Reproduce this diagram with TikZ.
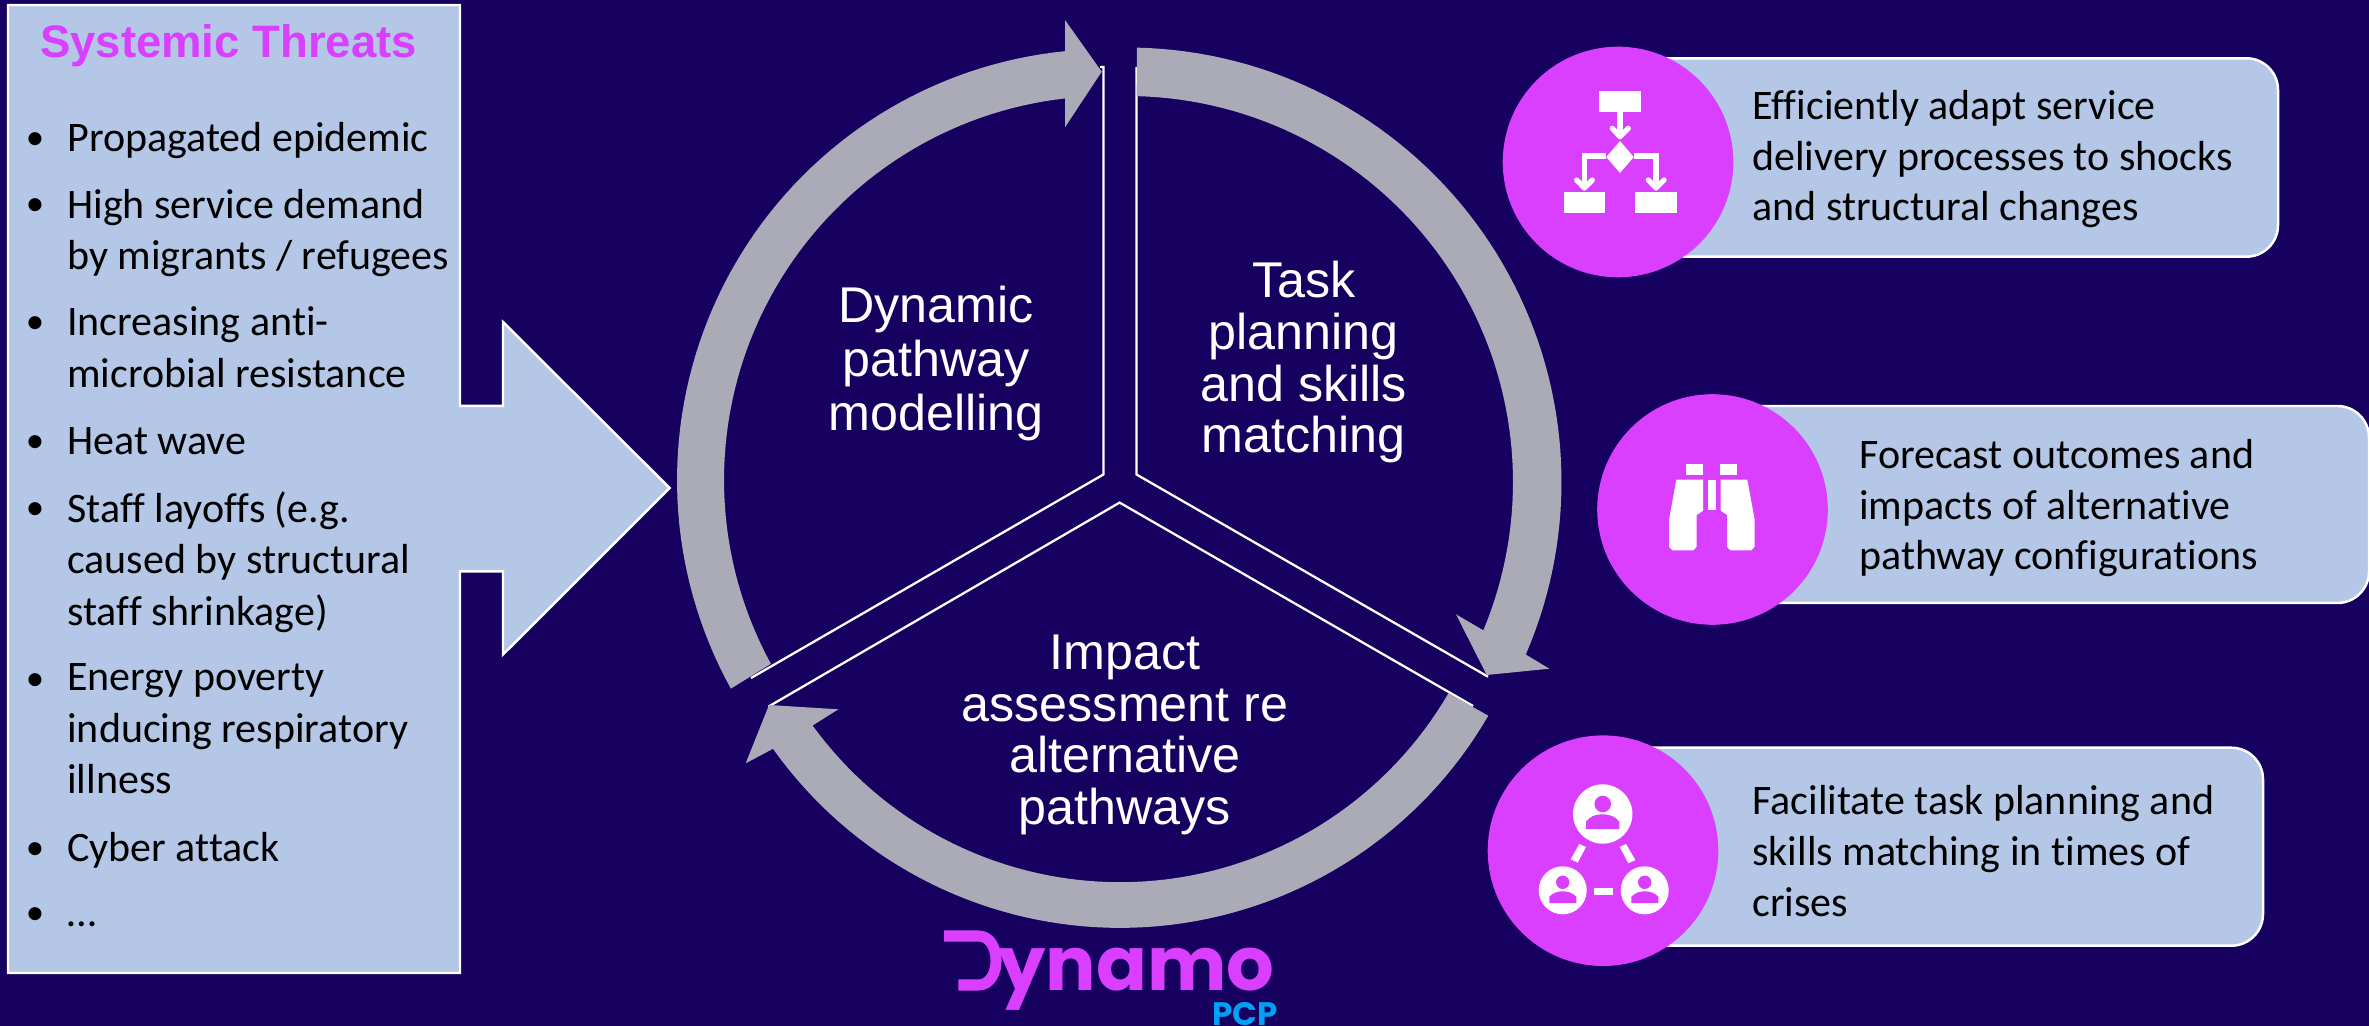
\documentclass[tikz,border=0pt]{standalone}
\usepackage{fontspec}
\setmainfont[Ligatures=NoCommon]{Carlito}
\newfontfamily\sanslab{Liberation Sans}
\newfontfamily\logofont{Poppins}
\definecolor{bgnavy}{HTML}{160060}
\definecolor{panelblue}{HTML}{B4C7E7}
\definecolor{ringgray}{HTML}{ABABB8}
\definecolor{vivid}{HTML}{DA3FFF}
\definecolor{pcpblue}{HTML}{00A0F5}
\tikzset{
  panel/.style={fill=panelblue,draw=white,line width=1.4pt,line join=miter},
  card/.style={fill=panelblue,draw=white,line width=1.4pt,rounded corners=18pt},
  disc/.style={fill=vivid},
  ring/.style={fill=ringgray},
  wedge/.style={draw=white,line width=1.3pt,line join=miter},
  iconfill/.style={fill=white},
  iconcut/.style={fill=vivid},
  iconline/.style={draw=white,line width=3pt,line cap=round,line join=round},
  body/.style={font=\fontsize{23.9}{29.3}\selectfont,text=black,align=left,inner sep=0pt,anchor=base west},
  cardbody/.style={body,font=\fontsize{23.9}{29}\selectfont},
  bul/.style={font=\fontsize{21}{29.3}\selectfont,text=black,inner sep=0pt,anchor=base},
  hub/.style={font=\sanslab\fontsize{28.6}{29.4}\selectfont,text=white,align=center,inner sep=0pt,anchor=base},
}
\begin{document}
\begin{tikzpicture}[x=0.02cm,y=-0.02cm]
\useasboundingbox (0,0) rectangle (2369,1026);
\begin{scope}
\clip (0,0) rectangle (2369,1026);
\fill[bgnavy] (0,0) rectangle (2369,1026);
% threats panel with arrow
\draw[panel] (8,5) -- (460,5) -- (460,405.8) -- (503,405.8) -- (503,322) -- (669.6,488) -- (503,654.5) -- (503,571.3) -- (460,571.3) -- (460,973) -- (8,973) -- cycle;
% cards
\draw[card] (1600,58.3) rectangle (2278,256.7);
\draw[card] (1700,406) rectangle (2369,603);
\draw[card] (1600,747.7) rectangle (2263,945.7);
% discs
\fill[disc] (1618,162) circle[radius=115.3];
\fill[disc] (1712.5,509.5) circle[radius=115.3];
\fill[disc] (1603,850.7) circle[radius=115.3];
% wedge outlines
\draw[wedge] (1100,67) -- (1103.4,67) -- (1103.4,474.5) -- (751,678);
\draw[wedge] (1136.5,67) -- (1136.5,474.5) -- (1488,676.7);
\draw[wedge] (768.3,706.7) -- (1119.6,502.6) -- (1473,706);
% ring arrows
\fill[ring] plot[domain=208.95:95.7,samples=70,variable=\t] ({1108+431*cos(\t)},{480-431*sin(\t)})
  -- (1065,20) -- (1101.7,71.7) -- (1065,127.3)
  -- plot[domain=96.4:208.6,samples=70,variable=\t] ({1108+384*cos(\t)},{480-384*sin(\t)}) -- cycle;
\fill[ring] plot[domain=88.7:-23.4,samples=70,variable=\t] ({1127+434.5*cos(\t)},{482-434.5*sin(\t)})
  -- (1549.3,668.7) -- (1486.7,675) -- (1456,614.3)
  -- plot[domain=-22.6:88.56,samples=70,variable=\t] ({1127+386*cos(\t)},{482-386*sin(\t)}) -- cycle;
\fill[ring] plot[domain=-30.1:-144.6,samples=70,variable=\t] ({1120+425.7*cos(\t)},{502.2-425.7*sin(\t)})
  -- (745.7,763.3) -- (769,705) -- (838.3,709.3)
  -- plot[domain=-144:-30.2,samples=70,variable=\t] ({1120+380*cos(\t)},{502.2-380*sin(\t)}) -- cycle;
% hub labels
\node[hub,font=\sanslab\fontsize{28.6}{31}\selectfont] (dyn) at (936,431) {Dynamic\\pathway\\modelling};
\node[hub] (task) at (1303.7,452.9) {Task\\planning\\and skills\\matching};
\node[hub] (imp) at (1125,824.5) {Impact\\assessment re\\alternative\\pathways};
% threats text
\node[font=\sanslab\bfseries\fontsize{25.9}{30}\selectfont,text=vivid,inner sep=0pt,anchor=base] (title) at (228.5,57.6) {Systemic Threats};
\foreach \n/\y in {a/151.8,b/218,c/335.7,d/454.8,e/521.6,f/692.4,g/861.3,h/926.7}
  \node[bul] (bul\n) at (35,\y-2) {•};
\node[body] (ia) at (67,151.8) {Propagated epidemic};
\node[body] (ib) at (67,269.6) {High service demand\\by migrants / refugees};
\node[body] (ic) at (67,387.4) {Increasing anti-\\microbial resistance};
\node[body] (id) at (67,454.8) {Heat wave};
\node[body] (ie) at (67,625) {Staff layoffs (e.g.\\caused by structural\\staff shrinkage)};
\node[body] (if) at (67,793.8) {Energy poverty\\inducing respiratory\\illness};
\node[body] (ig) at (67,861.3) {Cyber attack};
\node[body] (ih) at (67,926.7) {…};
% card text
\node[cardbody] (t1) at (1752,221) {Efficiently adapt service\\delivery processes to shocks\\and structural changes};
\node[cardbody] (t2) at (1859,570) {Forecast outcomes and\\impacts of alternative\\pathway configurations};
\node[cardbody] (t3) at (1752,916) {Facilitate task planning and\\skills matching in times of\\crises};
% flowchart icon
\fill[iconfill] (1599.3,91.3) rectangle (1641,112);
\fill[iconfill] (1563.7,192.3) rectangle (1605.3,213.3);
\fill[iconfill] (1635,192.3) rectangle (1676.7,213.3);
\fill[iconfill] (1620,141) -- (1633.7,157) -- (1620,173) -- (1606.3,157) -- cycle;
\draw[iconline,line cap=butt] (1620,112) -- (1620,135);
\draw[iconline] (1612.3,128.3) -- (1620,136.7) -- (1628.3,128.3);
\draw[iconline,line cap=butt,line join=miter] (1606.3,156) -- (1584.3,156) -- (1584.3,186);
\draw[iconline] (1576.7,180) -- (1584.3,188) -- (1592.3,180);
\draw[iconline,line cap=butt,line join=miter] (1633.7,156) -- (1656,156) -- (1656,186);
\draw[iconline] (1648.3,180) -- (1656,188) -- (1664,180);
% binoculars icon
\fill[iconfill] (1686.3,464.3) rectangle (1703,474.7);
\fill[iconfill] (1720,464.3) rectangle (1737,474.7);
\fill[iconfill] (1708,479.7) rectangle (1715.7,509.7);
\fill[iconfill] (1676.3,479.7) -- (1703,479.7) -- (1703,510.7) -- (1696.7,515) -- (1696.7,546.7) -- (1693.3,550.3) -- (1672.3,550.3) -- (1669,546.7) -- (1669,520) -- cycle;
\fill[iconfill] (1747.3,479.7) -- (1720.7,479.7) -- (1720.7,510.7) -- (1727,515) -- (1727,546.7) -- (1730.3,550.3) -- (1751.3,550.3) -- (1754.7,546.7) -- (1754.7,520) -- cycle;
% network icon
\fill[iconfill] (1602.7,814) circle[radius=29.7];
\fill[iconfill] (1562.7,890.3) circle[radius=24];
\fill[iconfill] (1644.7,890.3) circle[radius=24];
\fill[iconcut] (1602.7,804) circle[radius=8.3];
\fill[iconcut] (1562.7,882.3) circle[radius=6.7];
\fill[iconcut] (1644.7,882.3) circle[radius=6.7];
\fill[iconcut] (1586,829) -- (1586,821.7) .. controls (1590,816) and (1596,814.3) .. (1602.7,814.3) .. controls (1609,814.3) and (1615,816) .. (1619.3,821.7) -- (1619.3,829) -- cycle;
\fill[iconcut] (1549.3,903) -- (1549.3,896.7) .. controls (1553,893) and (1557,891.3) .. (1562.7,891.3) .. controls (1568,891.3) and (1573,893) .. (1576.3,896.7) -- (1576.3,903) -- cycle;
\fill[iconcut] (1631.3,903) -- (1631.3,896.7) .. controls (1635,893) and (1639,891.3) .. (1644.7,891.3) .. controls (1650,891.3) and (1655,893) .. (1658.3,896.7) -- (1658.3,903) -- cycle;
\fill[iconfill] (1594,887.7) rectangle (1613.3,895.3);
\fill[iconfill] (1579.3,844) -- (1586,847) -- (1577.7,862.7) -- (1570.7,859.3) -- cycle;
\fill[iconfill] (1626,844) -- (1619.7,847) -- (1628.3,863.3) -- (1635.3,860) -- cycle;
% logo
\draw[vivid,line width=6.3pt] (944,936) -- (978.3,936) .. controls (1002,936) and (1002,985) .. (978.3,985) -- (958.3,985);
\node[font=\logofont\bfseries\fontsize{42.7}{44}\selectfont,text=vivid,inner sep=0pt,anchor=base west] (logo) at (998,990.7) {ynamo};
\node[font=\logofont\bfseries\fontsize{18.5}{20}\selectfont,text=pcpblue,inner sep=0pt,anchor=base west] (pcp) at (1211.7,1025) {PCP};
\end{scope}
\end{tikzpicture}
\end{document}
